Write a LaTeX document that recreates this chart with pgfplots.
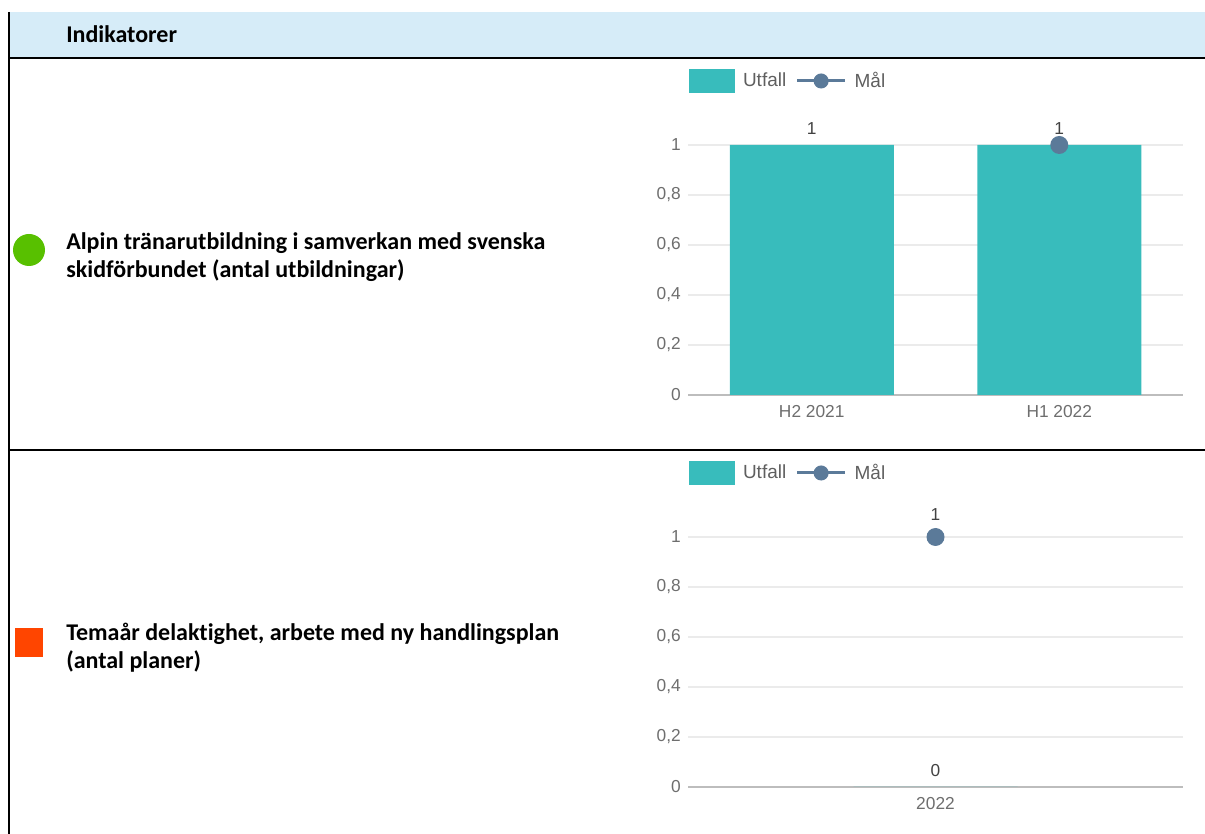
\documentclass[border=0pt]{standalone}
\usepackage{pgfplots}
\pgfplotsset{compat=1.18}
\usepackage{fontspec}
\setmainfont{Carlito}[Ligatures=NoCommon]
\newfontfamily\chartfont{Liberation Sans}
\definecolor{hdr}{HTML}{D6ECF8}
\definecolor{okgreen}{HTML}{58C000}
\definecolor{badred}{HTML}{FF4500}
\definecolor{utfall}{HTML}{38BCBC}
\definecolor{mal}{HTML}{5B7A99}
\definecolor{gridc}{HTML}{EBEBEB}
\definecolor{axisc}{HTML}{BDBDBD}
\definecolor{tickc}{HTML}{6E6E6E}
\definecolor{labc}{HTML}{424242}
\definecolor{legc}{HTML}{5F5F5F}
\pgfplotsset{
  mychart/.style={
    scale only axis,
    width=371.25pt, height=187.5pt,
    anchor=south west,
    ymin=0, ymax=1,
    ytick={0,0.2,0.4,0.6,0.8,1},
    yticklabels={0,{0,2},{0,4},{0,6},{0,8},1},
    /pgf/number format/assume math mode=true,
    axis lines*=left,
    y axis line style={draw=none},
    x axis line style={draw=axisc, line width=1.5pt},
    major tick length=0pt,
    ymajorgrids,
    grid style={draw=gridc, line width=0.9pt},
    tick label style={font=\chartfont\fontsize{13}{15}\selectfont, text=tickc, inner sep=0pt},
    yticklabel style={anchor=east, xshift=-5.25pt},
    xticklabel style={anchor=center, yshift=-12.75pt},
    clip=false,
    legend style={at={(0,1)}, anchor=west, xshift=0.75pt, yshift=48pt, draw=none, fill=none,
      inner sep=0pt, outer sep=0pt,
      font=\chartfont\fontsize{14.25}{16}\selectfont, text=legc,
      legend columns=-1,
      /tikz/every odd column/.append style={column sep=4pt},
      /tikz/every even column/.append style={column sep=5pt}},
    legend cell align=left,
  },
  utfallbar/.style={ybar, bar width=123pt, fill=utfall, draw=none,
    nodes near coords,
    every node near coord/.append style={font=\chartfont\fontsize{13}{15}\selectfont, text=labc, anchor=center, yshift=12pt},
    legend image code/.code={\fill[utfall] (0pt,-9pt) rectangle (34.5pt,9pt);}},
  malline/.style={draw=mal, line width=2.25pt, mark=*, mark size=5.6pt, mark options={fill=mal, draw=mal},
    legend image code/.code={\draw[mal, line width=2.25pt] (0pt,0pt) -- (36pt,0pt); \fill[mal] (18pt,0pt) circle (4.5pt);}},
}
\begin{document}
\begin{tikzpicture}[x=0.75pt,y=0.75pt]
% table frame
\fill[hdr] (10,777) rectangle (1205,822);
\draw[line width=1.5pt] (9,822) -- (9,0);
\draw[line width=1.5pt] (8,776) -- (1205,776);
\draw[line width=1.5pt] (8,384) -- (1205,384);
\node[anchor=base west, inner sep=0pt, font=\bfseries\fontsize{18}{22}\selectfont] at (66,791) {Indikatorer};
% row 1
\fill[okgreen] (29,584) circle (16);
\node[anchor=base west, inner sep=0pt, font=\bfseries\fontsize{18}{22}\selectfont] at (66,584) {Alpin tränarutbildning i samverkan med svenska};
\node[anchor=base west, inner sep=0pt, font=\bfseries\fontsize{18}{22}\selectfont] at (66,556) {skidförbundet (antal utbildningar)};
% row 2
\fill[badred] (15,206) rectangle (43,177);
\node[anchor=base west, inner sep=0pt, font=\bfseries\fontsize{18}{22}\selectfont] at (66,193) {Temaår delaktighet, arbete med ny handlingsplan};
\node[anchor=base west, inner sep=0pt, font=\bfseries\fontsize{18}{22}\selectfont] at (66,165) {(antal planer)};
\coordinate (A1) at (688,439);
\coordinate (A2) at (688,47);
% chart 1
\begin{axis}[mychart, at={(A1)}, xmin=-0.5, xmax=1.5, xtick={0,1}, xticklabels={H2 2021,H1 2022}]
\addplot[utfallbar] coordinates {(0,1) (1,1)};
\addlegendentry{Utfall}
\addplot[malline] coordinates {(1,1)};
\addlegendentry{Mål}
\end{axis}
% chart 2
\begin{axis}[mychart, at={(A2)}, xmin=-0.5, xmax=0.5, xtick={0}, xticklabels={2022}]
\addplot[utfallbar] coordinates {(0,0)};
\addlegendentry{Utfall}
\addplot[malline, nodes near coords,
  every node near coord/.append style={font=\chartfont\fontsize{13}{15}\selectfont, text=labc, anchor=center, yshift=16.5pt}] coordinates {(0,1)};
\addlegendentry{Mål}
\end{axis}
\pgfresetboundingbox
\path (0,0) rectangle (1205,834);
\end{tikzpicture}
\end{document}
